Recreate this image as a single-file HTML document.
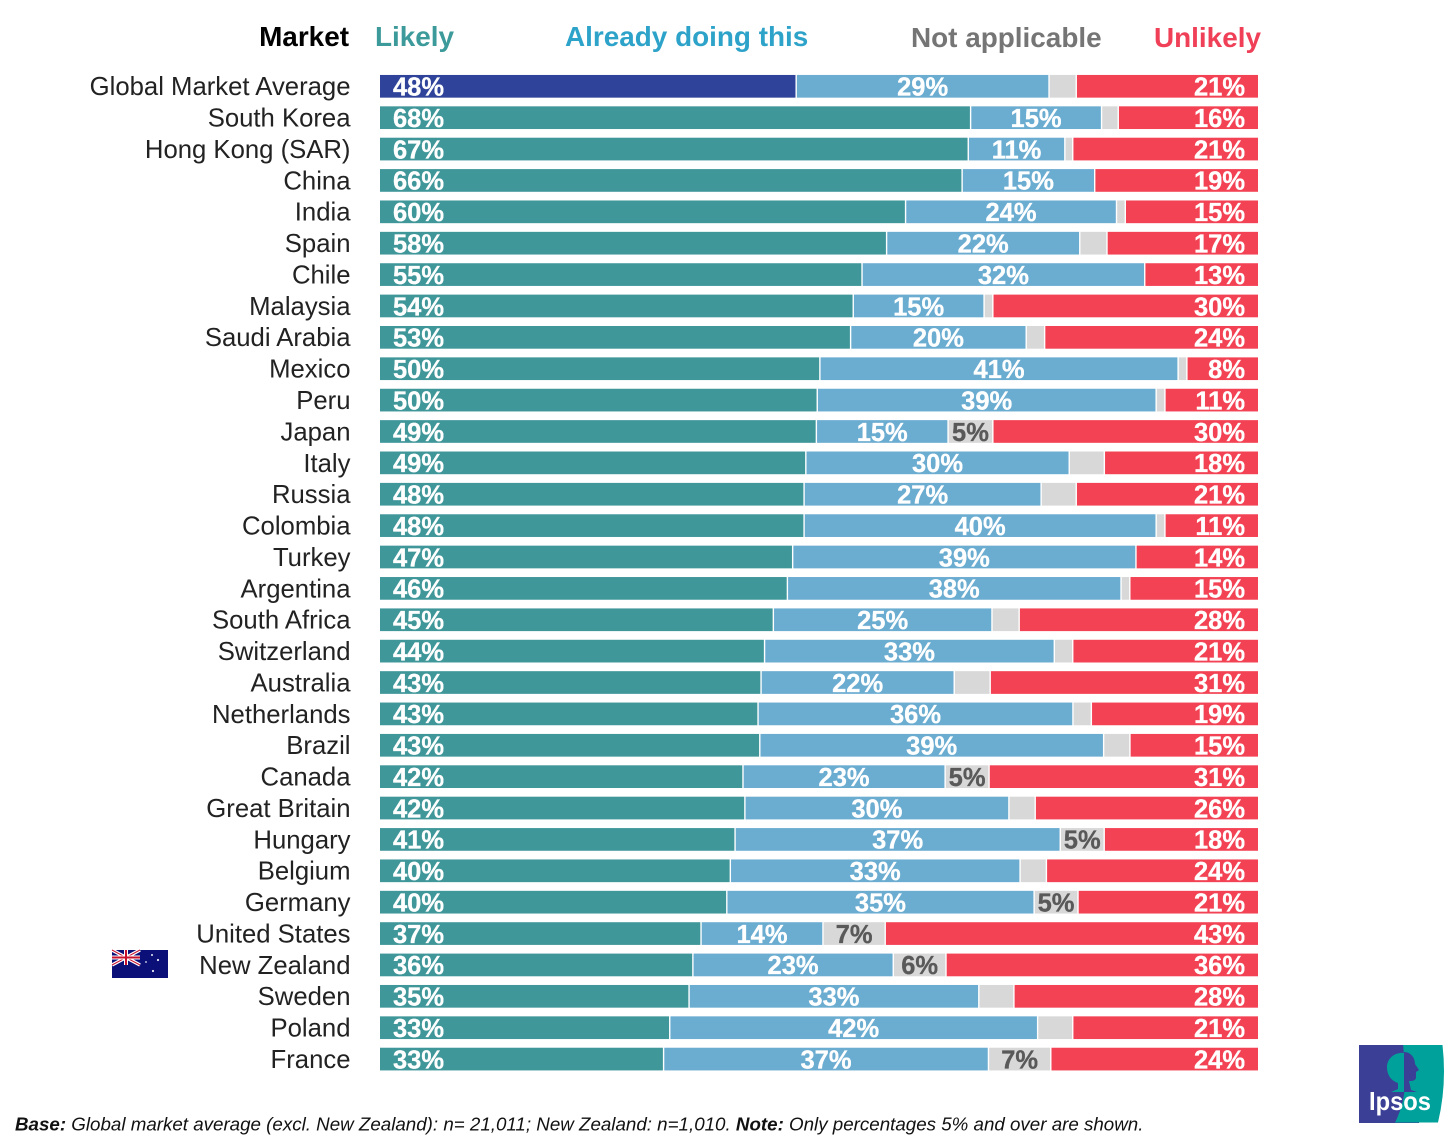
<!DOCTYPE html>
<html lang="en">
<head>
<meta charset="utf-8">
<title>Market chart</title>
<style>
html,body{margin:0;padding:0;background:#fff;}
svg{display:block;font-family:"Liberation Sans",Arial,sans-serif;}
</style>
</head>
<body>
<svg id="chart" xmlns="http://www.w3.org/2000/svg" width="1456" height="1141" viewBox="0 0 1456 1141">
  <g id="headers" font-size="27.9" font-weight="700">
    <text x="349" y="46" text-anchor="end" fill="#000">Market</text>
    <text x="375" y="46" fill="#3c9a9b">Likely</text>
    <text x="565" y="46" fill="#2ea3c9">Already doing this</text>
    <text x="911" y="47" fill="#757575">Not applicable</text>
    <text x="1154" y="47" fill="#f04058">Unlikely</text>
  </g>
  <g id="rows"></g>

  <g>
    <rect x="112" y="950" width="56" height="28" fill="#0b0f78"/>
    <g>
      <path d="M112 950L140 965M140 950L112 965" stroke="#fff" stroke-width="3.5"/>
      <path d="M112 950L140 965M140 950L112 965" stroke="#c8102e" stroke-width="1"/>
      <path d="M126 950V965M112 957.500H140" stroke="#fff" stroke-width="4"/>
      <path d="M126 950V965M112 957.500H140" stroke="#c8102e" stroke-width="2"/>
    </g>
    <g fill="#e9e9f5">
      <circle cx="152" cy="955" r="1"/>
      <circle cx="158" cy="960" r="1.1"/>
      <circle cx="146" cy="962" r="0.9"/>
      <circle cx="153" cy="971" r="1.1"/>
    </g>
  </g>

  <g>
    <rect x="1359" y="1045" width="60" height="78" fill="#3b3f96"/>
    <path d="M1403 1045H1442.500Q1447 1085 1438 1122.500H1395Q1404 1105 1405 1085Q1405 1060 1403 1045Z" fill="#00a19a"/>
    <path d="M1404 1053C1394 1052 1387 1059 1387 1067C1387 1076 1392 1081 1398 1083L1398 1089L1391 1092H1404Z" fill="#00a19a"/>
    <path d="M1404 1052C1411 1052 1415 1058 1415 1064L1419 1070L1416 1072L1416 1078C1415 1081 1412 1081 1409 1081L1411 1090L1417 1092H1404Z" fill="#3b3f96"/>
    <text x="1369" y="1110" font-size="26" font-weight="700" fill="#fff" textLength="62" lengthAdjust="spacingAndGlyphs">Ipsos</text>
  </g>

  <text x="15" y="1130.3" font-size="18.75" font-style="italic" fill="#111"><tspan font-weight="700">Base:</tspan> Global market average (excl. New Zealand): n= 21,011; New Zealand: n=1,010. <tspan font-weight="700">Note:</tspan> Only percentages 5% and over are shown.</text>
</svg>

<script>
var categories = ["Global Market Average","South Korea","Hong Kong (SAR)","China","India","Spain","Chile","Malaysia","Saudi Arabia","Mexico","Peru","Japan","Italy","Russia","Colombia","Turkey","Argentina","South Africa","Switzerland","Australia","Netherlands","Brazil","Canada","Great Britain","Hungary","Belgium","Germany","United States","New Zealand","Sweden","Poland","France"];
var likelyValues = [47.4,67.2,67.0,66.3,59.8,57.7,54.9,53.9,53.6,50.1,49.8,49.7,48.5,48.3,48.3,47.0,46.4,44.8,43.8,43.4,43.1,43.3,41.3,41.6,40.4,39.9,39.5,36.6,35.6,35.2,33.0,32.3];
var alreadyValues = [28.8,14.9,11.0,15.1,24.0,22.0,32.2,14.9,20.0,40.8,38.6,15.0,30.0,27.0,40.1,39.1,38.0,24.9,33.0,22.0,35.9,39.2,23.0,30.1,37.0,33.0,35.0,13.9,22.8,33.0,41.9,37.0];
var notApplicableValues = [3.1,1.9,0.9,0,1.0,3.1,0,1.0,2.1,1.0,1.0,5.1,4.0,4.0,1.0,0,1.0,3.1,2.1,4.1,2.1,3.0,5.0,3.0,5.0,3.0,5.0,7.1,6.0,4.0,4.0,7.1];
var unlikelyValues = [20.7,15.9,21.1,18.6,15.1,17.2,12.9,30.2,24.3,8.1,10.6,30.2,17.5,20.7,10.6,13.9,14.6,27.2,21.1,30.5,19.0,14.6,30.6,25.4,17.5,24.1,20.5,42.5,35.5,27.8,21.1,23.6];
var likelyLabels = ["48%","68%","67%","66%","60%","58%","55%","54%","53%","50%","50%","49%","49%","48%","48%","47%","46%","45%","44%","43%","43%","43%","42%","42%","41%","40%","40%","37%","36%","35%","33%","33%"];
var alreadyLabels = ["29%","15%","11%","15%","24%","22%","32%","15%","20%","41%","39%","15%","30%","27%","40%","39%","38%","25%","33%","22%","36%","39%","23%","30%","37%","33%","35%","14%","23%","33%","42%","37%"];
var notApplicableLabels = ["","","","","","","","","","","","5%","","","","","","","","","","","5%","","5%","","5%","7%","6%","","","7%"];
var unlikelyLabels = ["21%","16%","21%","19%","15%","17%","13%","30%","24%","8%","11%","30%","18%","21%","11%","14%","15%","28%","21%","31%","19%","15%","31%","26%","18%","24%","21%","43%","36%","28%","21%","24%"];

var NS = "http://www.w3.org/2000/svg";
var rowsGroup = document.getElementById("rows");
function xScale(v, total){ return 380 + (v / total) * 878; }
function yCenter(i){ return 86.3 + i * 31.38; }
var BAR_H = 22.7;

function slug(s){ return s.toLowerCase().replace(/[^a-z0-9]+/g, "-").replace(/^-|-$/g, ""); }

function addRect(parent, name, x0, x1, yc, fill){
  var r = document.createElementNS(NS, "rect");
  
  
  r.setAttribute("x", x0 + 0.7);
  r.setAttribute("y", yc - BAR_H / 2);
  r.setAttribute("width", Math.max(0, x1 - x0 - 1.4));
  r.setAttribute("height", BAR_H);
  r.setAttribute("fill", fill);
  parent.appendChild(r);
}

function addText(parent, name, x, y, anchor, size, weight, fill, content, strokeW){
  var t = document.createElementNS(NS, "text");
  
  
  t.setAttribute("x", x);
  t.setAttribute("y", y);
  t.setAttribute("text-anchor", anchor);
  t.setAttribute("font-size", size);
  t.setAttribute("font-weight", weight);
  t.setAttribute("fill", fill);
  if (strokeW) {
    t.setAttribute("stroke", fill);
    t.setAttribute("stroke-width", strokeW);
  }
  t.textContent = content;
  parent.appendChild(t);
}

categories.forEach(function(cat, i){
  var g = document.createElementNS(NS, "g");
  
  
  rowsGroup.appendChild(g);
  var yc = yCenter(i);
  var a = likelyValues[i], b = alreadyValues[i], c = notApplicableValues[i], d = unlikelyValues[i];
  var total = a + b + c + d;
  var x0 = xScale(0, total), x1 = xScale(a, total), x2 = xScale(a + b, total), x3 = xScale(a + b + c, total), x4 = xScale(total, total);

  addText(g, 'market-label', 350.5, yc + 8.9, "end", 25.7, 400, "#222", cat);
  addRect(g, 'likely-bar', x0 - 0.7, x1, yc, i === 0 ? "#2e4399" : "#40979a");
  addRect(g, 'already-doing-bar', x1, x2, yc, "#6bacd1");
  if (c > 0) { addRect(g, 'not-applicable-bar', x2, x3, yc, "#d8d8d8"); }
  addRect(g, 'unlikely-bar', x3, x4 + 0.7, yc, "#f34254");

  var ty = yc + 9.3;
  addText(g, 'likely-value', 393, ty, "start", 25.5, 700, "#fff", likelyLabels[i], 0.3);
  addText(g, 'already-value', (x1 + x2) / 2, ty, "middle", 25.5, 700, "#fff", alreadyLabels[i], 0.3);
  if (notApplicableLabels[i]) {
    addText(g, 'not-applicable-value', (x2 + x3) / 2, ty, "middle", 25.5, 700, "#595959", notApplicableLabels[i], 0.3);
  }
  addText(g, 'unlikely-value', 1245, ty, "end", 25.5, 700, "#fff", unlikelyLabels[i], 0.3);
});
</script>
</body>
</html>
